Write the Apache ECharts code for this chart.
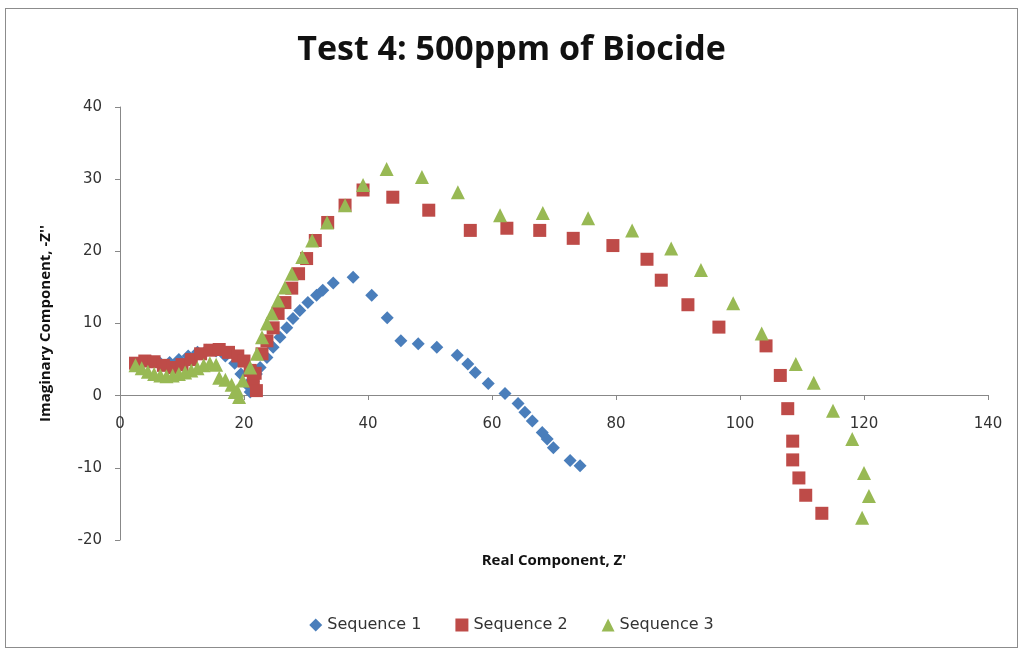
<!DOCTYPE html>
<html>
<head>
<meta charset="utf-8">
<script src="https://cdn.jsdelivr.net/npm/echarts@6/dist/echarts.min.js"></script>
<style>
  html, body { margin: 0; padding: 0; background: #fff; }
  #frame { position: absolute; left: 5px; top: 8px; width: 1013px; height: 640px; border: 1px solid #8c8c8c; box-sizing: border-box; }
  #chart { width: 1023px; height: 653px; }
</style>
</head>
<body>
<div id="frame"></div>
<div id="chart"></div>
<script>
// sequence data: [Z', -Z'']
const seq1 = [
  [2.5, 4.2], [3.5, 4.6], [5, 4.7], [6.5, 4.5], [8, 4.6], [9.5, 5], [11, 5.5], [12.5, 6],
  [14, 6.3], [15.5, 6.2], [17, 5.5], [18.5, 4.5], [19.5, 3], [20.5, 1.5], [21, 0.5], [21.5, 2],
  [22, 3], [22.6, 3.9], [23.7, 5.3], [24.7, 6.7], [25.8, 8.1], [26.9, 9.4], [27.9, 10.7],
  [29, 11.8], [30.3, 12.9], [31.7, 13.9], [32.7, 14.6], [34.4, 15.6], [37.6, 16.4],
  [40.6, 13.9], [43.1, 10.8], [45.3, 7.6], [48.1, 7.2], [51.1, 6.7], [54.4, 5.6], [56.1, 4.4],
  [57.3, 3.2], [59.4, 1.7], [62.1, 0.3], [64.2, -1.1], [65.3, -2.3], [66.5, -3.5], [68.1, -5.1],
  [68.9, -6.0], [69.9, -7.2], [72.6, -9.0], [74.2, -9.7]
];
const seq2 = [
  [2.5, 4.5], [4, 4.8], [5.5, 4.7], [7, 4.2], [8.5, 3.9], [10, 4.3], [11.5, 5], [13, 5.8],
  [14.5, 6.3], [16, 6.4], [17.5, 6], [19, 5.5], [20, 4.8], [21, 3.5], [21.5, 2], [22, 0.7],
  [22.9, 5.8], [21.8, 3.1], [23.7, 7.6], [24.7, 9.4], [25.5, 11.4], [26.6, 12.9], [27.7, 14.9],
  [28.8, 16.9], [30.1, 19], [31.5, 21.5], [33.5, 24], [36.3, 26.4], [39.2, 28.5], [44, 27.5],
  [49.8, 25.7], [56.5, 22.9], [62.4, 23.2], [67.7, 22.9], [73.1, 21.8], [79.5, 20.8],
  [85, 18.9], [87.3, 16], [91.6, 12.6], [96.6, 9.5], [104.2, 6.9], [106.5, 2.8],
  [107.7, -1.8], [108.5, -6.3], [108.5, -8.9], [109.5, -11.4], [110.6, -13.8], [113.2, -16.3]
];
const seq3 = [
  [2.5, 4.2], [3.5, 3.8], [4.5, 3.3], [5.5, 3], [6.5, 2.8], [7.5, 2.7], [8.5, 2.8], [9.5, 3],
  [10.5, 3.2], [11.5, 3.5], [12.5, 3.8], [13.5, 4.2], [14.5, 4.5], [15.5, 4.3], [16, 2.5],
  [17, 2.2], [18, 1.5], [18.5, 0.5], [18.9, 0.7], [19.2, -0.2], [19.8, 2.1], [21, 3.9],
  [22.1, 5.8], [22.9, 8.1], [23.7, 10], [24.5, 11.4], [25.5, 13.2], [26.6, 15], [27.7, 16.9],
  [29.4, 19.2], [31, 21.5], [33.4, 24], [36.3, 26.4], [39.2, 29.2], [43, 31.4], [48.7, 30.3],
  [54.5, 28.2], [61.3, 25], [68.2, 25.3], [75.5, 24.6], [82.6, 22.9], [88.9, 20.4],
  [93.7, 17.4], [98.9, 12.8], [103.5, 8.6], [109, 4.4], [111.9, 1.8], [115, -2.1],
  [118.1, -6], [120, -10.7], [120.8, -13.9], [119.7, -16.9]
];
const seriesNames = ['Sequence 1', 'Sequence 2', 'Sequence 3'];

const chart = echarts.init(document.getElementById('chart'));
const axisFont = { color: '#333', fontSize: 15, fontFamily: 'DejaVu Sans' };

chart.setOption({
  animation: false,
  title: {
    text: 'Test 4: 500ppm of Biocide',
    left: 'center',
    top: 28,
    textStyle: { fontFamily: 'Open Sans', fontWeight: 'bold', fontSize: 34, color: '#111' }
  },
  legend: {
    data: [
      { name: seriesNames[0], icon: 'diamond' },
      { name: seriesNames[1], icon: 'rect' },
      { name: seriesNames[2], icon: 'triangle' }
    ],
    top: 612,
    left: 'center',
    itemWidth: 13,
    itemHeight: 13,
    itemGap: 34,
    textStyle: { color: '#333', fontSize: 16, fontFamily: 'DejaVu Sans' }
  },
  // grid 0 holds the data; grid 1 is the upper half only, so its x axis sits on y = 0
  grid: [
    { left: 120, right: 35, top: 107, bottom: 113, containLabel: false, outerBoundsMode: 'none' },
    { left: 120, right: 35, top: 107, bottom: 258, containLabel: false, outerBoundsMode: 'none' }
  ],
  xAxis: [
    {
      gridIndex: 0, type: 'value', min: 0, max: 140, interval: 20, show: false
    },
    {
      gridIndex: 1, type: 'value', min: 0, max: 140, interval: 20,
      name: "Real Component, Z'",
      nameLocation: 'middle',
      nameGap: 158,
      nameTextStyle: { fontFamily: 'Open Sans', fontWeight: 'bold', fontSize: 15, color: '#111' },
      axisLine: { onZero: false, lineStyle: { color: '#888', width: 1 } },
      axisTick: { show: true, length: 5, lineStyle: { color: '#888' } },
      axisLabel: Object.assign({ margin: 22 }, axisFont),
      splitLine: { show: false }
    }
  ],
  yAxis: [
    {
      gridIndex: 0, type: 'value', min: -20, max: 40, interval: 10,
      name: "Imaginary Component, -Z''",
      nameLocation: 'middle',
      nameGap: 67,
      nameTextStyle: { fontFamily: 'Open Sans', fontWeight: 'bold', fontSize: 15, color: '#111' },
      axisLine: { show: true, onZero: false, lineStyle: { color: '#888', width: 1 } },
      axisTick: { show: true, length: 5, lineStyle: { color: '#888' } },
      axisLabel: Object.assign({ margin: 18 }, axisFont),
      splitLine: { show: false }
    },
    {
      gridIndex: 1, type: 'value', min: 0, max: 40, show: false
    }
  ],
  series: [
    {
      name: seriesNames[0], type: 'scatter', data: seq1,
      symbol: 'diamond', symbolSize: 13,
      itemStyle: { color: '#4A7EBB', opacity: 1 }
    },
    {
      name: seriesNames[1], type: 'scatter', data: seq2,
      symbol: 'rect', symbolSize: 13,
      itemStyle: { color: '#BE4B48', opacity: 1 }
    },
    {
      name: seriesNames[2], type: 'scatter', data: seq3,
      symbol: 'triangle', symbolSize: 14,
      itemStyle: { color: '#98B954', opacity: 1 }
    }
  ]
});
</script>
</body>
</html>
